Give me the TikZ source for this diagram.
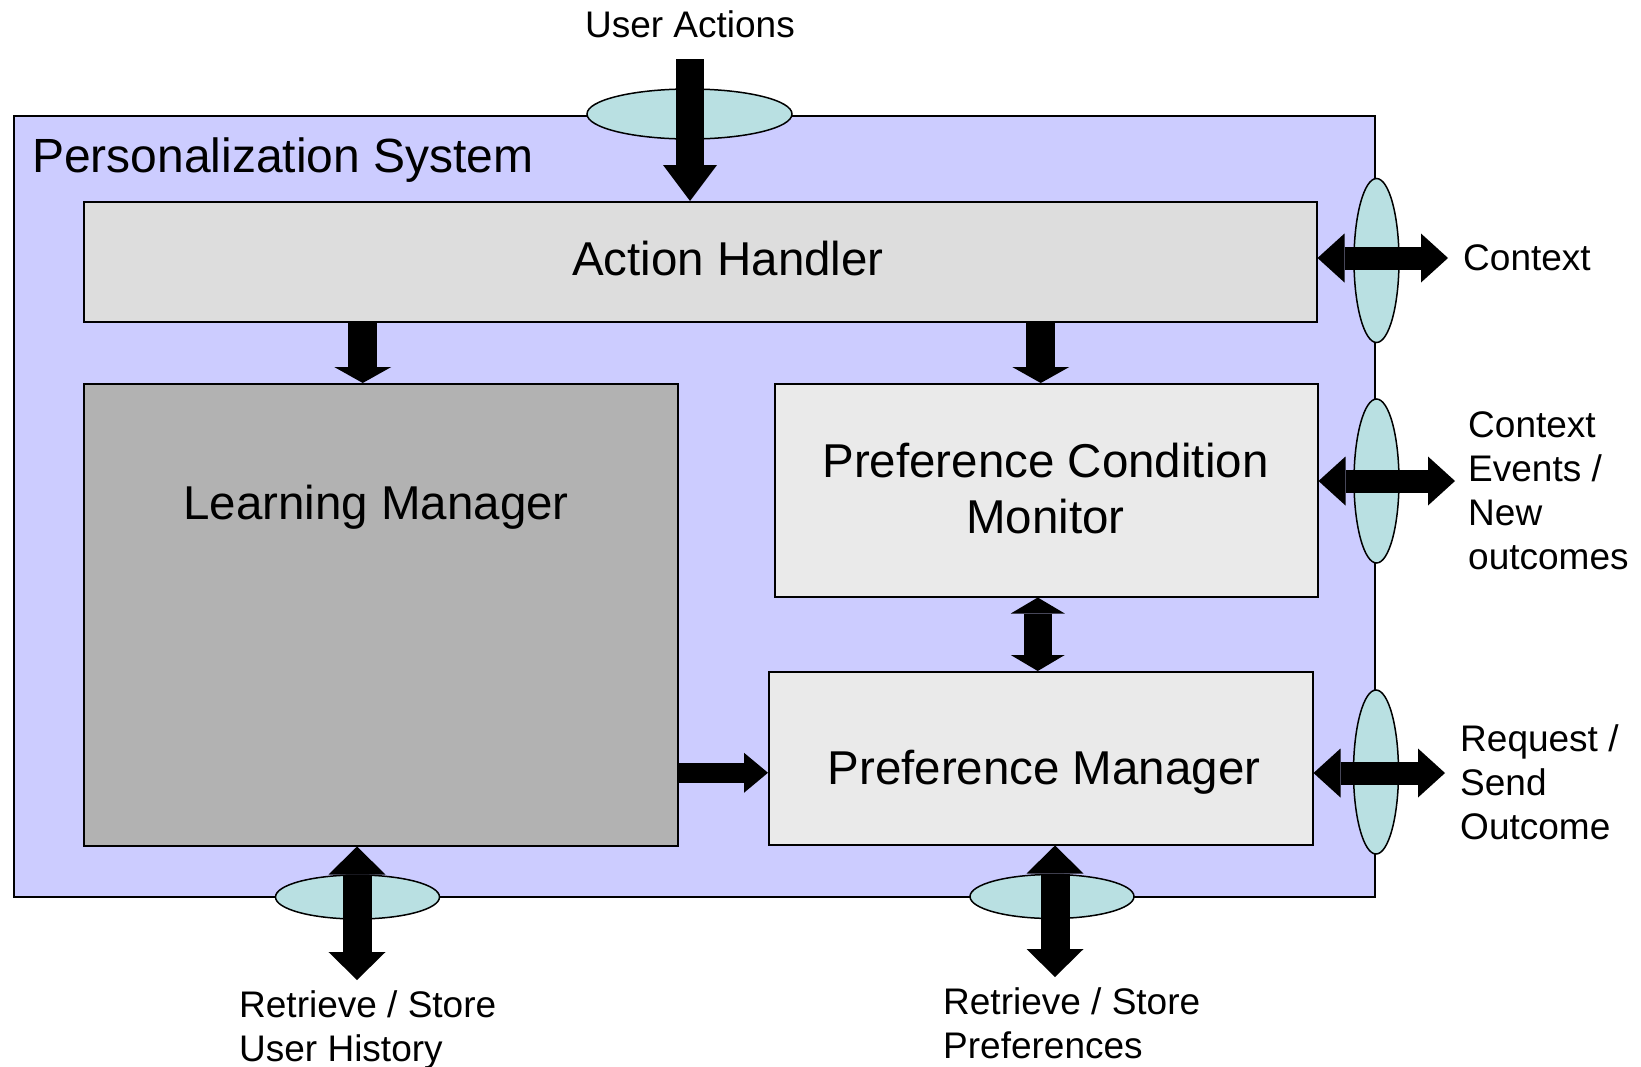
\documentclass[tikz,border=0pt]{standalone}
\usepackage{fontspec}
\setmainfont{Liberation Sans}
\usetikzlibrary{arrows.meta, shapes.geometric, positioning}
\definecolor{sysBg}{RGB}{204,204,255}
\definecolor{ahGray}{RGB}{221,221,221}
\definecolor{lmGray}{RGB}{178,178,178}
\definecolor{pcGray}{RGB}{234,234,234}
\definecolor{portC}{RGB}{185,224,226}
\tikzset{
  blk/.style={draw=black, line width=1.5pt, inner sep=0pt, anchor=north west},
  port/.style={ellipse, draw=black, line width=1.5pt, fill=portC, inner sep=0pt},
  bigtxt/.style={font=\fontsize{47.5}{56}\selectfont, inner sep=0pt, anchor=base, align=center},
  lbl/.style={font=\fontsize{37}{44}\selectfont, inner sep=0pt, anchor=base west, align=left},
  fat/.style n args={3}{line width=#1pt, >={Triangle[length=#2pt,width=#3pt,line width=0pt]}}
}

\begin{document}
\begin{tikzpicture}[x=1pt, y=-1pt]
\useasboundingbox (0,0) rectangle (1641,1066);
% ===== system boundary and its ports =====
\node[blk, fill=sysBg, minimum width=1361pt, minimum height=781pt] (sys) at (13,115) {};
\node[bigtxt, anchor=base west, font=\fontsize{48}{56}\selectfont] (systitle) at (32,172) {Personalization System};
\node[port, minimum width=205pt, minimum height=50pt] (pUser) at (689.5,114) {};
\node[port, minimum width=45pt, minimum height=164pt] (pCtx) at (1376.5,260.5) {};
\node[port, minimum width=45pt, minimum height=164pt] (pEvt) at (1376.5,481) {};
\node[port, minimum width=45pt, minimum height=164pt] (pReq) at (1376,772) {};
\node[port, minimum width=164pt, minimum height=44pt] (pHist) at (357.5,897) {};
\node[port, minimum width=164pt, minimum height=44pt] (pPref) at (1052,896.5) {};
% ===== components =====
\node[blk, fill=ahGray, minimum width=1233pt, minimum height=120pt] (ah) at (83,201) {};
\node[blk, fill=lmGray, minimum width=594pt, minimum height=462pt] (lm) at (83,383) {};
\node[blk, fill=pcGray, minimum width=543pt, minimum height=213pt] (pcm) at (774,383) {};
\node[blk, fill=pcGray, minimum width=544pt, minimum height=173pt] (pm) at (768,671) {};
% (base of a multi-line node = baseline of its last line)
\node[bigtxt] (ahtxt) at (728,275) {Action Handler};
\node[bigtxt] (lmtxt) at (376,519) {Learning Manager};
\node[bigtxt] (pcmtxt) at (1045.5,533) {Preference Condition\\Monitor};
\node[bigtxt] (pmtxt) at (1044,784) {Preference Manager};
% ===== outside labels =====
\node[lbl, anchor=base] (uaLbl) at (690,37) {User Actions};
\node[lbl] (ctxLbl) at (1463,270) {Context};
\node[lbl] (evtLbl) at (1468,569) {Context\\Events /\\New\\outcomes};
\node[lbl] (reqLbl) at (1460,839) {Request /\\Send\\Outcome};
\node[lbl] (histLbl) at (239,1061) {Retrieve / Store\\User History};
\node[lbl] (prefLbl) at (943,1058) {Retrieve / Store\\Preferences};
% free ends of the external arrows
\coordinate (uaStart) at (690,59);
\coordinate (ctxEnd) at (1448,258);
\coordinate (evtEnd) at (1455,481);
\coordinate (reqEnd) at (1445,773);
\coordinate (histEnd) at (357,980);
\coordinate (prefEnd) at (1055,977);
% ===== block arrows =====
\draw[fat={28}{36}{54}, ->] (uaStart) -- (uaStart |- ah.north);
\draw[fat={29}{16}{57}, ->] ([xshift=-18pt]lm.north |- ah.south) -- ([xshift=-18pt]lm.north);
\draw[fat={29}{16}{57}, ->] ([xshift=-5.5pt]pcm.north |- ah.south) -- ([xshift=-5.5pt]pcm.north);
\draw[fat={28}{16}{54}, <->] ([xshift=-8.5pt]pcm.south) -- ([xshift=-8.5pt]pcm.south |- pm.north);
\draw[fat={20}{24}{40}, ->] ([yshift=-14.5pt]pm.west -| lm.east) -- ([yshift=-14.5pt]pm.west);
\draw[fat={23}{27}{49}, <->] (ctxEnd -| ah.east) -- (ctxEnd);
\draw[fat={23}{27}{49}, <->] (evtEnd -| pcm.east) -- (evtEnd);
\draw[fat={23}{27}{49}, <->] (reqEnd -| pm.east) -- (reqEnd);
\draw[fat={29}{28}{57}, <->] (histEnd |- lm.south) -- (histEnd);
\draw[fat={29}{28}{57}, <->] (prefEnd |- pm.south) -- (prefEnd);
\end{tikzpicture}
\end{document}
